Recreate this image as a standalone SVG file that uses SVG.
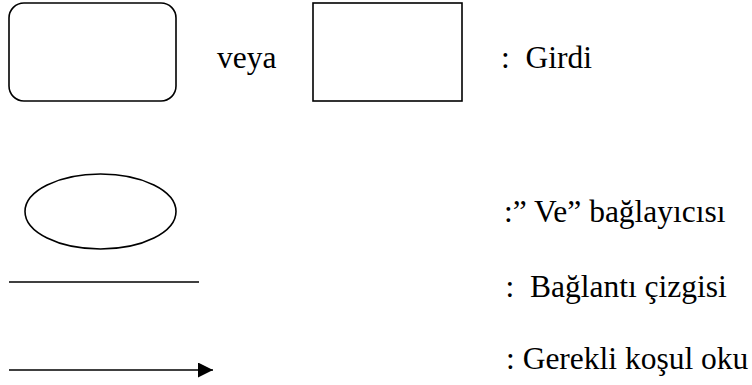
<svg xmlns="http://www.w3.org/2000/svg" width="752" height="385" viewBox="0 0 752 385">
  <style>
    .shape { fill: #ffffff; stroke: #000000; stroke-width: 1.6; }
    .line { stroke: #000000; stroke-width: 1.6; fill: none; }
    .label { font-family: 'Liberation Serif', 'Times New Roman', serif; font-size: 31.5px; fill: #000000; white-space: pre; }
  </style>
  <defs>
    <marker id="arrowhead" markerUnits="userSpaceOnUse" markerWidth="16" markerHeight="16" refX="15" refY="7.5" orient="auto">
      <path d="M0,0 L15,7.5 L0,15 Z" fill="#000000"/>
    </marker>
  </defs>
  <rect width="752" height="385" fill="#ffffff"/>

  <!-- input symbols: rounded box or plain box -->
  <g id="input-rounded">
    <rect class="shape" x="9" y="3" width="167" height="98" rx="15" ry="15"/>
  </g>
  <text class="label" x="217" y="68">veya</text>
  <g id="input-square">
    <rect class="shape" x="313" y="3" width="149" height="98"/>
  </g>
  <text class="label" x="501" y="68">:  Girdi</text>

  <!-- AND connector -->
  <g id="and-connector">
    <ellipse class="shape" cx="100.5" cy="211.5" rx="75.5" ry="37.5"/>
  </g>
  <text class="label" x="504" y="222">:” Ve” bağlayıcısı</text>

  <!-- connection line and prerequisite arrow -->
  <g id="connectors">
    <line class="line" x1="9" y1="282" x2="199" y2="282"/>
    <line class="line" x1="9" y1="370" x2="213" y2="370" marker-end="url(#arrowhead)"/>
  </g>
  <text class="label" x="505.5" y="297">:  Bağlantı çizgisi</text>
  <text class="label" x="506" y="369">: Gerekli koşul oku</text>
</svg>
